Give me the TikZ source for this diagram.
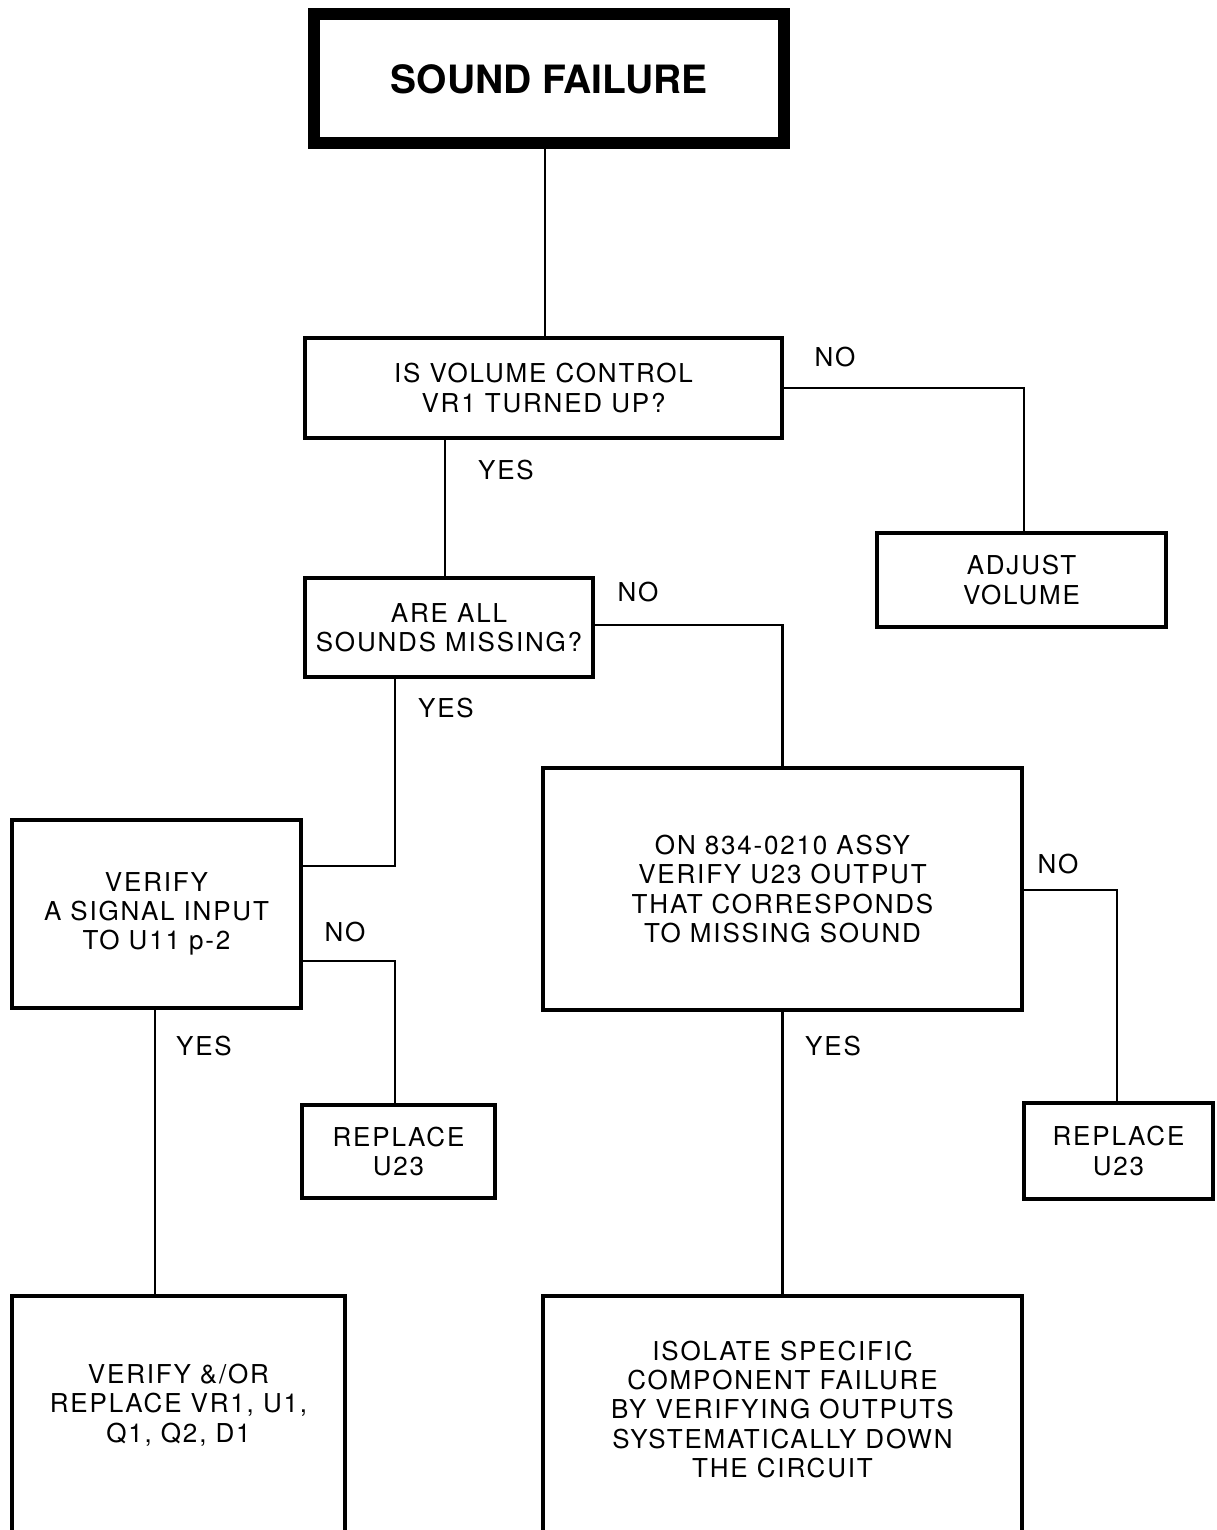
\documentclass[tikz,border=0pt]{standalone}
\usepackage{fontspec}
\setmainfont{TeX Gyre Heros}[LetterSpace=7]
\newfontfamily\titlefont{TeX Gyre Heros}
\usetikzlibrary{calc}
\tikzset{
  txt/.style={font=\fontsize{26}{29.3}\selectfont},
  box/.style={draw, line width=3.5pt, align=center, inner sep=0pt, txt},
  openbox/.style={align=center, inner sep=0pt, txt},
  lbl/.style={inner sep=0pt, txt},
  conn/.style={line width=2.5pt},
  edge3/.style={line width=3.5pt},
}
\begin{document}
\begin{tikzpicture}[x=1pt,y=-1pt]
\useasboundingbox (0,0) rectangle (1217,1530);
% nodes
\node[draw, line width=12pt, minimum width=470pt, minimum height=129pt, inner sep=0pt,
      font=\titlefont\fontsize{39}{44}\selectfont\bfseries] (n1) at (549.25,79) {SOUND FAILURE};
\node[box, minimum width=477pt, minimum height=100pt] (n2) at (543.5,388) {IS VOLUME CONTROL\\VR1 TURNED UP?};
\node[box, minimum width=289pt, minimum height=94pt] (adj) at (1021.5,580) {ADJUST\\VOLUME};
\node[box, minimum width=288pt, minimum height=99pt] (n3) at (449,627.5) {ARE ALL\\SOUNDS MISSING?};
\node[box, minimum width=289pt, minimum height=188pt] (ver) at (156.5,914) {VERIFY\\A SIGNAL INPUT\\TO U11 p-2};
\node[box, minimum width=193pt, minimum height=93pt] (rep1) at (398.5,1151.5) {REPLACE\\U23};
\node[box, minimum width=479pt, minimum height=242pt] (big) at (782.5,889) {ON 834-0210 ASSY\\VERIFY U23 OUTPUT\\THAT CORRESPONDS\\TO MISSING SOUND};
\node[box, minimum width=189pt, minimum height=96pt] (rep2) at (1118.5,1151) {REPLACE\\U23};
\node[openbox, minimum width=333pt, minimum height=218pt] (vr) at (178.5,1405) {VERIFY \&/OR\\REPLACE VR1, U1,\\Q1, Q2, D1};
\node[openbox, minimum width=479pt, minimum height=227pt] (iso) at (782.5,1409.5) {ISOLATE SPECIFIC\\COMPONENT FAILURE\\BY VERIFYING OUTPUTS\\SYSTEMATICALLY DOWN\\THE CIRCUIT};
% open-bottom box outlines
\draw[edge3] ($(vr.south west)+(0,20)$) |- (vr.north east) -- ($(vr.south east)+(0,20)$);
\draw[edge3] ($(iso.south west)+(0,10)$) |- (iso.north east) -- ($(iso.south east)+(0,10)$);
% labels
\node[lbl] (no1) at (835,357) {NO};
\node[lbl] (yes1) at (506,470) {YES};
\node[lbl] (no2) at (638,592) {NO};
\node[lbl] (yes2) at (446,708) {YES};
\node[lbl] (no3) at (345,932) {NO};
\node[lbl] (yes3) at (204,1046) {YES};
\node[lbl] (no4) at (1058,864) {NO};
\node[lbl] (yes4) at (833,1046) {YES};
% connectors
\draw[conn] ($(n1.south)+(-4.25,0)$) -- ($(n2.north)+(1.5,0)$);
\draw[conn] (n2.east) -| ($(adj.north)+(2.5,0)$);
\draw[conn] ($(n2.south)+(-98.5,0)$) -- ($(n3.north)+(-4,0)$);
\draw[conn] ($(n3.east)+(0,-2.5)$) -| (big.north);
\draw[conn] ($(n3.south)+(-54,0)$) |- ($(ver.east)+(0,-48)$);
\draw[conn] ($(ver.east)+(0,47)$) -| ($(rep1.north)+(-3.5,0)$);
\draw[conn] ($(ver.south)+(-1.5,0)$) -- ($(vr.north)+(-23.5,0)$);
\draw[conn] ($(big.east)+(0,1)$) -| ($(rep2.north)+(-1.5,0)$);
\draw[conn] (big.south) -- (iso.north);
\end{tikzpicture}
\end{document}
